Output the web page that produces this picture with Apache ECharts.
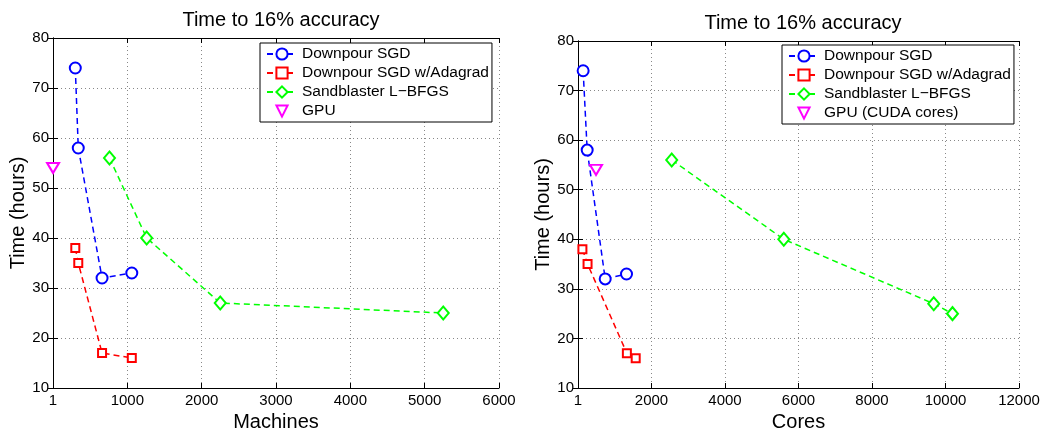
<!DOCTYPE html>
<html>
<head>
<meta charset="utf-8">
<script src="https://cdn.jsdelivr.net/npm/echarts@6/dist/echarts.min.js"></script>
<style>html,body{margin:0;padding:0;background:#fff}#c{width:1042px;height:429px}</style>
</head>
<body>
<div id="c"></div>
<script>
// ---- Data ----
const seriesNames = ['Downpour SGD', 'Downpour SGD w/Adagrad', 'Sandblaster L\u2212BFGS'];
const gpuNameLeft = 'GPU';
const gpuNameRight = 'GPU (CUDA cores)';

// Left panel: Machines
const sgdMachines = [300, 340, 660, 1060];
const sgdTimeM = [74, 58, 32, 33];
const adaMachines = [300, 340, 660, 1060];
const adaTimeM = [38, 35, 17, 16];
const lbfgsMachines = [760, 1260, 2250, 5250];
const lbfgsTimeM = [56, 40, 27, 25];
const gpuMachines = [1];
const gpuTimeM = [54];

// Right panel: Cores
const sgdCores = [140, 250, 740, 1320];
const sgdTimeC = [74, 58, 32, 33];
const adaCores = [120, 260, 1330, 1570];
const adaTimeC = [38, 35, 17, 16];
const lbfgsCores = [2550, 5600, 9680, 10190];
const lbfgsTimeC = [56, 40, 27, 25];
const gpuCores = [490];
const gpuTimeC = [54];

const yTicks = {min: 10, max: 80, interval: 10};
const xTicksLeft = {min: 0, max: 6000, interval: 1000};
const xTicksRight = {min: 0, max: 12000, interval: 2000};

const pair = (xs, ys) => xs.map((x, i) => [x, ys[i]]);

const FONT = 'Liberation Sans';
const colors = ['#0000ff', '#ff0000', '#00ff00', '#ff00ff'];
const symbols = ['emptyCircle', 'emptyRect', 'emptyDiamond'];
const symSizes = [11, 8, [11, 13]];

function mainX(grid, t, name) {
  return {
    type: 'value', gridIndex: grid, min: t.min, max: t.max, interval: t.interval,
    name: name, nameLocation: 'middle', nameGap: 20,
    nameTextStyle: {fontFamily: FONT, fontSize: 20, color: '#000'},
    axisLine: {show: true, lineStyle: {color: '#000', width: 1}},
    axisTick: {show: true, inside: true, length: 5, lineStyle: {color: '#000'}},
    axisLabel: {fontFamily: FONT, fontSize: 15, color: '#000', margin: 5,
      formatter: v => v === 0 ? '1' : String(v)},
    splitLine: {show: true, lineStyle: {type: [1, 3], color: '#888', width: 1}}
  };
}
function mainY(grid, name) {
  return {
    type: 'value', gridIndex: grid, min: yTicks.min, max: yTicks.max, interval: yTicks.interval,
    name: name, nameLocation: 'middle', nameGap: 23,
    nameTextStyle: {fontFamily: FONT, fontSize: 20, color: '#000'},
    axisLine: {show: true, lineStyle: {color: '#000', width: 1}},
    axisTick: {show: true, inside: true, length: 5, lineStyle: {color: '#000'}},
    axisLabel: {fontFamily: FONT, fontSize: 15, color: '#000', margin: 4},
    splitLine: {show: true, lineStyle: {type: [1, 3], color: '#888', width: 1}}
  };
}
function mirrorX(grid, t) {
  return {type: 'value', gridIndex: grid, position: 'top', min: t.min, max: t.max, interval: t.interval,
    axisLine: {show: true, lineStyle: {color: '#000'}},
    axisTick: {show: true, inside: true, length: 5, lineStyle: {color: '#000'}},
    axisLabel: {show: false}, splitLine: {show: false}};
}
function mirrorY(grid) {
  return {type: 'value', gridIndex: grid, position: 'right', min: yTicks.min, max: yTicks.max, interval: yTicks.interval,
    axisLine: {show: true, lineStyle: {color: '#000'}},
    axisTick: {show: true, inside: true, length: 5, lineStyle: {color: '#000'}},
    axisLabel: {show: false}, splitLine: {show: false}};
}
function lineSeries(i, data, axis) {
  return {
    name: seriesNames[i], type: 'line', xAxisIndex: axis, yAxisIndex: axis, data: data,
    symbol: symbols[i], symbolSize: symSizes[i], showAllSymbol: true,
    lineStyle: {color: colors[i], width: 1.5, type: [6, 4]},
    itemStyle: {color: colors[i], borderColor: colors[i], borderWidth: 1.5},
    emphasis: {disabled: true}, animation: false, z: 3
  };
}
function gpuSeries(name, data, axis) {
  return {
    name: name, type: 'line', xAxisIndex: axis, yAxisIndex: axis, data: data,
    symbol: 'emptyTriangle', symbolRotate: 180, symbolSize: [12, 10], showAllSymbol: true,
    lineStyle: {color: colors[3], width: 0, opacity: 0},
    itemStyle: {color: colors[3], borderColor: colors[3], borderWidth: 1.5},
    emphasis: {disabled: true}, animation: false, z: 4
  };
}
function legend(left, top, names) {
  return {
    left: left, top: top, orient: 'vertical', data: names,
    backgroundColor: '#fff', borderColor: '#000', borderWidth: 1,
    padding: [3, 3, 3, 6], itemGap: 3, itemWidth: 30, itemHeight: 14,
    textStyle: {fontFamily: FONT, fontSize: 15.5, lineHeight: 15, color: '#000'},
    selectedMode: false, z: 10
  };
}

const chart = echarts.init(document.getElementById('c'), null, {renderer: 'canvas'});
chart.setOption({
  animation: false,
  backgroundColor: '#fff',
  title: [
    {text: 'Time to 16% accuracy', left: 276, top: 5, textAlign: 'center',
      textStyle: {fontFamily: FONT, fontSize: 20, fontWeight: 'normal', color: '#000'}},
    {text: 'Time to 16% accuracy', left: 798, top: 8, textAlign: 'center',
      textStyle: {fontFamily: FONT, fontSize: 20, fontWeight: 'normal', color: '#000'}}
  ],
  grid: [
    {left: 53, top: 38, width: 446, height: 350, show: false, outerBoundsMode: 'none', containLabel: false},
    {left: 578, top: 41, width: 441, height: 347, show: false, outerBoundsMode: 'none', containLabel: false}
  ],
  xAxis: [mainX(0, xTicksLeft, 'Machines'), mainX(1, xTicksRight, 'Cores'), mirrorX(0, xTicksLeft), mirrorX(1, xTicksRight)],
  yAxis: [mainY(0, 'Time (hours)'), mainY(1, 'Time (hours)'), mirrorY(0), mirrorY(1)],
  legend: [
    legend(260, 43, [seriesNames[0], seriesNames[1], seriesNames[2], gpuNameLeft]),
    legend(782, 45, [seriesNames[0], seriesNames[1], seriesNames[2], gpuNameRight])
  ],
  series: [
    lineSeries(0, pair(sgdMachines, sgdTimeM), 0),
    lineSeries(1, pair(adaMachines, adaTimeM), 0),
    lineSeries(2, pair(lbfgsMachines, lbfgsTimeM), 0),
    gpuSeries(gpuNameLeft, pair(gpuMachines, gpuTimeM), 0),
    lineSeries(0, pair(sgdCores, sgdTimeC), 1),
    lineSeries(1, pair(adaCores, adaTimeC), 1),
    lineSeries(2, pair(lbfgsCores, lbfgsTimeC), 1),
    gpuSeries(gpuNameRight, pair(gpuCores, gpuTimeC), 1)
  ]
});
</script>
</body>
</html>
